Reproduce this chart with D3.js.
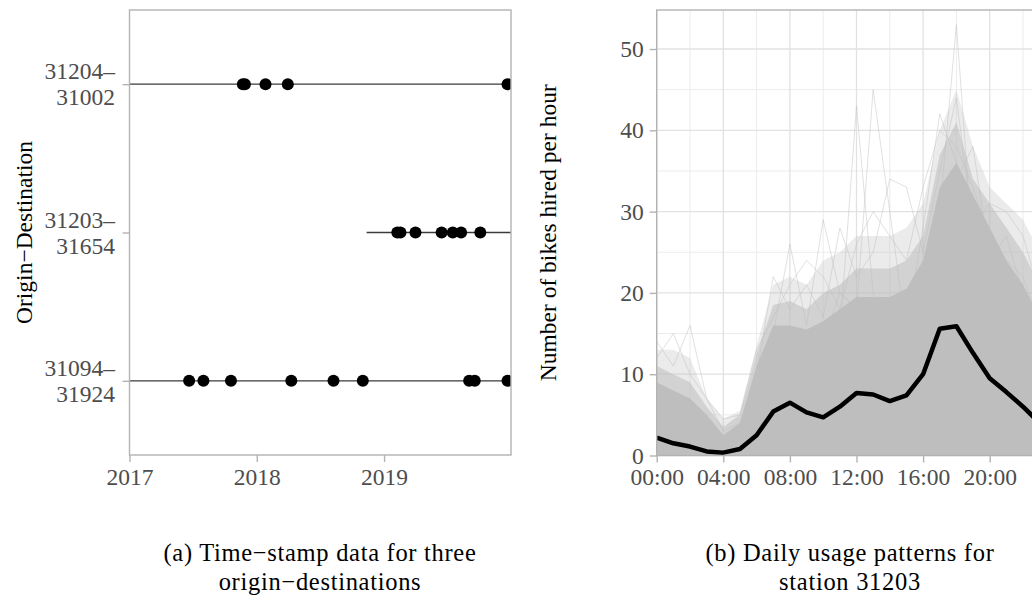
<!DOCTYPE html>
<html><head><meta charset="utf-8">
<script src="https://cdn.jsdelivr.net/npm/d3@7"></script>
<style>body{margin:0;background:#fff}svg{display:block}text{font-family:"Liberation Serif","Times New Roman",serif}</style>
</head><body><svg id="c" width="1032" height="605"></svg>
<script>
// ---------- Panel (a) data ----------
const odCategories = ["31204–31002", "31203–31654", "31094–31924"];
const odLabels = [["31204–", "31002"], ["31203–", "31654"], ["31094–", "31924"]];
const odLineStart = ["2016-06-01", "2018-11-12", "2016-06-01"];
const odLineEnd = ["2020-06-01", "2020-06-01", "2020-06-01"];
const odTrips0 = ["2017-11-22", "2017-11-28", "2018-01-26", "2018-03-31", "2019-12-21"];
const odTrips1 = ["2019-02-08", "2019-02-17", "2019-04-01", "2019-06-15", "2019-07-17", "2019-08-10", "2019-10-04"];
const odTrips2 = ["2017-06-21", "2017-08-01", "2017-10-19", "2018-04-10", "2018-08-09", "2018-11-01", "2019-09-02", "2019-09-18", "2019-12-21"];
const yearTicks = ["2017", "2018", "2019"];

// ---------- Panel (b) data ----------
const hours = d3.range(0, 24);
const hourTicks = [0, 4, 8, 12, 16, 20];
const meanUsage = [2.2, 1.5, 1.1, 0.5, 0.35, 0.8, 2.5, 5.4, 6.5, 5.3, 4.7, 6.0, 7.7, 7.5, 6.7, 7.4, 10.0, 15.6, 15.9, 12.6, 9.5, 7.8, 6.0, 4.0];
const coreUpper = [9, 8, 7, 5, 2.5, 4, 11, 16, 16, 15.5, 16.5, 18, 19.5, 19.5, 19.5, 20.5, 24, 33, 36, 32, 28, 24, 21, 17];
const midUpper = [11, 10, 9, 6, 3.5, 5, 12.5, 18.5, 19, 18, 20, 21, 23, 23, 23, 24, 27, 37, 41, 34, 31, 28, 25, 21];
const outerUpper = [13, 13, 12, 7, 4.5, 5.5, 13.5, 21, 22, 21, 24, 25, 27, 27, 27, 28, 31, 40, 45, 38, 33, 31, 29, 25];
const day1 = [3, 2, 1, 0, 0, 1, 3, 8, 10, 8, 12, 15, 43, 20, 12, 10, 14, 25, 30, 20, 15, 10, 8, 5];
const day2 = [4, 3, 2, 1, 0, 1, 4, 10, 12, 9, 14, 20, 18, 45, 30, 15, 18, 30, 28, 22, 16, 12, 9, 6];
const day3 = [2, 1, 1, 0, 0, 0, 2, 6, 8, 6, 5, 7, 9, 10, 8, 10, 14, 30, 53, 25, 18, 12, 9, 6];
const day4 = [5, 3, 2, 1, 0, 1, 3, 9, 11, 8, 10, 12, 14, 15, 13, 16, 28, 42, 36, 30, 22, 15, 11, 7];
const day5 = [5, 4, 3, 1, 0, 2, 8, 15, 26, 16, 29, 20, 18, 16, 14, 17, 20, 27, 34, 38, 24, 27, 20, 12];
const day6 = [12, 15, 10, 7, 3, 4, 10, 22, 18, 21, 17, 28, 22, 25, 34, 33, 25, 35, 44, 28, 31, 30, 27, 20];
const day7 = [14, 11, 16, 7, 4.5, 5, 13, 17, 21, 24, 22, 18, 26, 30, 27, 24, 33, 40, 38, 33, 27, 24, 22, 16];
const yTicksB = [0, 10, 20, 30, 40, 50];

const svg = d3.select("#c");
const font = "Liberation Serif, Times New Roman, serif";
const tickCol = "#b3b3b3", textCol = "#4d4d4d";

// ---------- Panel (a) ----------
const pa = {l: 129.5, r: 511, t: 10, b: 455};
const parse = d3.timeParse("%Y-%m-%d");
const xA = d3.scaleTime().domain([parse("2017-01-01"), parse("2019-12-31")]).range([pa.l, pa.r]);
const yA = d3.scalePoint().domain(odCategories).range([pa.t, pa.b]).padding(0.5);
svg.append("clipPath").attr("id", "clipA").append("rect")
  .attr("x", pa.l).attr("y", pa.t).attr("width", pa.r - pa.l).attr("height", pa.b - pa.t);
const ga = svg.append("g");
const gaData = ga.append("g").attr("clip-path", "url(#clipA)");
const tripsAll = [odTrips0, odTrips1, odTrips2];
odCategories.forEach((c, i) => {
  gaData.append("line").attr("x1", xA(parse(odLineStart[i]))).attr("x2", xA(parse(odLineEnd[i])))
    .attr("y1", yA(c)).attr("y2", yA(c)).attr("stroke", "#3a3a3a").attr("stroke-width", 1.3);
  gaData.selectAll(null).data(tripsAll[i]).enter().append("circle")
    .attr("cx", d => xA(parse(d))).attr("cy", yA(c)).attr("r", 6).attr("fill", "#000");
});
ga.append("rect").attr("x", pa.l).attr("y", pa.t).attr("width", pa.r - pa.l).attr("height", pa.b - pa.t)
  .attr("fill", "none").attr("stroke", tickCol).attr("stroke-width", 1.4);
const axA = ga.append("g").attr("transform", `translate(0,${pa.b})`)
  .call(d3.axisBottom(xA).tickValues(yearTicks.map(y => parse(y + "-01-01"))).tickFormat(d3.timeFormat("%Y")).tickSize(7).tickPadding(6));
axA.select(".domain").remove();
axA.selectAll("line").attr("stroke", tickCol).attr("stroke-width", 1.4);
axA.selectAll("text").attr("font-size", 23.5).attr("fill", textCol).attr("font-family", font);
const ayA = ga.append("g").attr("transform", `translate(${pa.l},0)`)
  .call(d3.axisLeft(yA).tickSize(7).tickFormat(""));
ayA.select(".domain").remove();
ayA.selectAll("line").attr("stroke", tickCol).attr("stroke-width", 1.4);
odCategories.forEach((c, i) => {
  const t = ga.append("text").attr("text-anchor", "end").attr("font-size", 23.5).attr("fill", textCol).attr("font-family", font);
  t.append("tspan").attr("x", 115).attr("y", yA(c) - 5).text(odLabels[i][0]);
  t.append("tspan").attr("x", 115).attr("y", yA(c) + 21).text(odLabels[i][1]);
});
ga.append("text").attr("transform", `translate(32,${(pa.t + pa.b) / 2}) rotate(-90)`)
  .attr("text-anchor", "middle").attr("font-size", 23.5).attr("fill", "#000").attr("font-family", font)
  .text("Origin−Destination");

// ---------- Panel (b) ----------
const pb = {l: 656.7, t: 10, b: 455.5};
const xB = d3.scaleLinear().domain([0, 23]).range([pb.l, pb.l + 23 * 16.65]);
const yB = d3.scaleLinear().domain([0, 54.8]).range([pb.b, pb.t]);
const pr = xB(23);
svg.append("clipPath").attr("id", "clipB").append("rect")
  .attr("x", pb.l).attr("y", pb.t).attr("width", pr - pb.l).attr("height", pb.b - pb.t);
const gb = svg.append("g");
const grid = gb.append("g");
d3.range(2, 23, 4).forEach(h => grid.append("line").attr("x1", xB(h)).attr("x2", xB(h)).attr("y1", pb.t).attr("y2", pb.b).attr("stroke", "#ececec").attr("stroke-width", 1));
d3.range(5, 55, 10).forEach(v => grid.append("line").attr("y1", yB(v)).attr("y2", yB(v)).attr("x1", pb.l).attr("x2", pr).attr("stroke", "#ececec").attr("stroke-width", 1));
hourTicks.forEach(h => grid.append("line").attr("x1", xB(h)).attr("x2", xB(h)).attr("y1", pb.t).attr("y2", pb.b).attr("stroke", "#e2e2e2").attr("stroke-width", 1.3));
yTicksB.forEach(v => grid.append("line").attr("y1", yB(v)).attr("y2", yB(v)).attr("x1", pb.l).attr("x2", pr).attr("stroke", "#e2e2e2").attr("stroke-width", 1.3));

const gbData = gb.append("g").attr("clip-path", "url(#clipB)");
const area = arr => d3.area().x((d, i) => xB(hours[i])).y0(yB(0)).y1(d => yB(d))(arr);
const line = d3.line().x((d, i) => xB(hours[i])).y(d => yB(d));
[day1, day2, day3, day4, day5, day6, day7].forEach(d => {
  gbData.append("path").attr("d", line(d)).attr("fill", "none").attr("stroke", "#c4c4c4").attr("stroke-opacity", 0.5).attr("stroke-width", 1);
});
gbData.append("path").attr("d", area(outerUpper)).attr("fill", "#bebebe").attr("fill-opacity", 0.3);
gbData.append("path").attr("d", area(midUpper)).attr("fill", "#bebebe").attr("fill-opacity", 0.55);
gbData.append("path").attr("d", area(coreUpper)).attr("fill", "#bebebe");
gbData.append("path").attr("d", line(meanUsage)).attr("fill", "none").attr("stroke", "#000").attr("stroke-width", 4.5).attr("stroke-linejoin", "round");

gb.append("rect").attr("x", pb.l).attr("y", pb.t).attr("width", pr - pb.l).attr("height", pb.b - pb.t)
  .attr("fill", "none").attr("stroke", tickCol).attr("stroke-width", 1.4);
const axB = gb.append("g").attr("transform", `translate(0,${pb.b})`)
  .call(d3.axisBottom(xB).tickValues(hourTicks).tickFormat(h => d3.format("02d")(h) + ":00").tickSize(7).tickPadding(6));
axB.select(".domain").remove();
axB.selectAll("line").attr("stroke", tickCol).attr("stroke-width", 1.4);
axB.selectAll("text").attr("font-size", 23.5).attr("fill", textCol).attr("font-family", font);
const ayB = gb.append("g").attr("transform", `translate(${pb.l},0)`)
  .call(d3.axisLeft(yB).tickValues(yTicksB).tickSize(7).tickPadding(6));
ayB.select(".domain").remove();
ayB.selectAll("line").attr("stroke", tickCol).attr("stroke-width", 1.4);
ayB.selectAll("text").attr("font-size", 23.5).attr("fill", textCol).attr("font-family", font);
gb.append("text").attr("transform", `translate(556,${(pb.t + pb.b) / 2}) rotate(-90)`)
  .attr("text-anchor", "middle").attr("font-size", 23.5).attr("fill", "#000").attr("font-family", font)
  .text("Number of bikes hired per hour");

// ---------- Captions ----------
const cap = (x, lines) => {
  lines.forEach((s, i) => svg.append("text").attr("text-anchor", "middle").attr("font-size", 24.5)
    .attr("letter-spacing", 0.7).attr("fill", "#000").attr("font-family", font)
    .attr("x", x).attr("y", 561 + i * 28.5).text(s));
};
cap(320, ["(a) Time−stamp data for three", "origin−destinations"]);
cap(850, ["(b) Daily usage patterns for", "station 31203"]);
</script></body></html>
